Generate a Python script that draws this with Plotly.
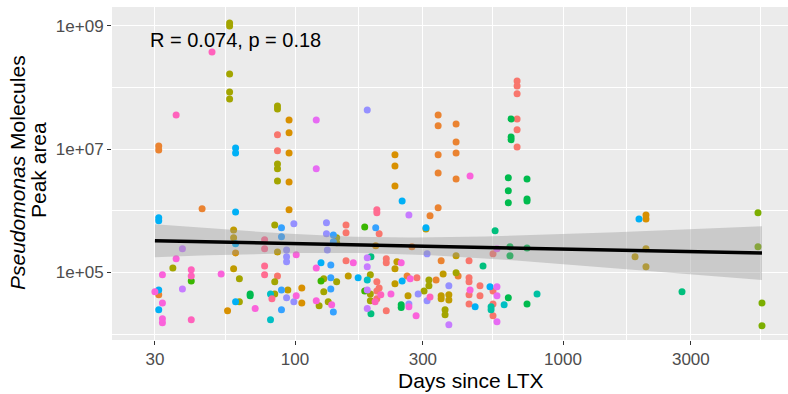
import numpy as np
import plotly.graph_objects as go

# ggplot2 hue palette for 20 patients
palette = ["#F8766D", "#EA8331", "#D89000", "#C09B00", "#A3A500", "#7CAE00",
           "#39B600", "#00BB4E", "#00BF7D", "#00C1A3", "#00BFC4", "#00BAE0",
           "#00B0F6", "#35A2FF", "#9590FF", "#C77CFF", "#E76BF3", "#FA62DB",
           "#FF62BC", "#FF6C91"]

days = [
    # patient 0
    674, 674, 674, 674, 674, 674, 86, 86, 155, 155, 155, 219, 219, 219, 202, 206, 202, 202,
    285, 446, 446, 446, 446, 446, 490, 490, 548, 548, 548, 548, 86, 206,
    # patient 1
    31, 31, 45, 31, 342, 342, 342, 342, 342, 319, 399, 399, 399, 399, 351, 336, 406, 262, 273,
    # patient 2
    95, 95, 95, 95, 95, 236, 236, 236, 56, 106, 106, 200, 2040, 2040, 60,
    # patient 3
    59, 59, 59, 94, 158, 236, 236, 357, 351, 351, 375, 375, 264, 308, 399, 2040, 2040, 1857, 240, 86,
    # patient 4
    57, 57, 57, 57, 57, 86, 86, 86, 86, 86, 84, 35, 62, 62, 84, 84, 143, 143, 128, 128, 143,
    123, 133, 191, 191, 191, 316, 316, 303, 399, 363, 363,
    # patient 5
    5341, 5341, 5527, 5527,
    # patient 6
    41, 125, 182, 182,
    # patient 7
    640, 640, 640, 625, 625, 625, 734, 734, 734, 634, 734, 634, 625, 734, 68, 68, 249, 249,
    # patient 8
    558, 503, 192, 192, 2780,
    # patient 9
    800, 539, 539,
    # patient 10
    81, 81, 603, 186,
    # patient 12
    31, 31, 60, 60, 60, 60, 31, 31, 60, 251, 308, 172, 251, 125, 470, 534, 1921,
    # patient 13
    89, 89, 89, 89, 139, 139, 136, 136, 136, 139, 200,
    # patient 14
    99, 99, 93, 93, 93, 93, 131, 131, 132, 311, 311, 375, 288, 266, 186,
    # patient 15
    38, 38, 186, 186, 186, 186, 266, 375,
    # patient 16
    120, 120, 567, 567, 567, 567,
    # patient 17
    30, 32, 32, 32, 32, 36, 53, 71, 101, 101, 120, 120, 137, 165, 249, 228, 283, 269, 266, 450, 450,
    # patient 18
    49, 36, 41, 41, 41, 199, 209, 319,
    # patient 19
    77, 77, 77, 77, 82, 202, 202,
]

peak_area = [
    # patient 0
    1.28e8, 1.06e8, 7.9e7, 3.1e7, 2.06e7, 1.09e7, 1.71e7, 9.4e6, 5.9e5, 4.4e5, 1.55e5, 1.67e5, 1.44e5, 2.4e4,
    7.1e4, 5.6e4, 5.0e4, 3.75e4, 8.2e4, 1.55e5, 8.2e4, 7.1e4, 4.35e4, 3.1e4, 6.1e4, 4.2e4,
    2.01e5, 5.0e4, 3.1e4, 1.99e4, 8.8e4, 4.24e5,
    # patient 1
    1.13e7, 9.7e6, 1.08e6, 4.35e4, 3.6e7, 2.39e7, 8.1e6, 4.13e6, 1.12e6, 8.3e5, 2.57e7, 1.31e7, 8.7e6, 3.3e6,
    1.55e5, 7.6e4, 8.8e4, 8.8e4, 2.61e5,
    # patient 2
    2.98e7, 1.84e7, 8.7e6, 2.95e6, 1.04e6, 8.1e6, 5.36e6, 2.54e6, 2.4e4, 5.6e4, 3.2e4, 2.71e5, 8.6e5, 7.4e5, 2.08e5,
    # patient 3
    4.9e5, 3.65e5, 1.15e5, 5.2e4, 8.8e4, 1.15e5, 6.6e4, 9.5e4, 4.2e4, 3.75e4, 4.35e4, 3.6e4, 4.2e4, 5.1e5,
    1.87e5, 2.42e5, 1.24e5, 1.8e5, 1.49e5, 2.16e5,
    # patient 4
    1.11e9, 9.96e8, 1.66e8, 8.5e7, 6.5e7, 5.03e7, 4.5e7, 5.78e6, 4.8e6, 3.06e6, 5.9e5, 1.19e5, 7.9e4, 3.35e4,
    7.1e4, 4.5e4, 3.65e5, 3.03e5, 7.9e4, 4.9e4, 7.1e4, 2.9e4, 3.35e4, 9.2e4, 4.5e4, 3.5e4, 7.6e4, 6.1e4,
    5.0e4, 9.9e4, 2.5e4, 2.06e4,
    # patient 5
    9.3e5, 2.61e5, 3.2e4, 1.37e4,
    # patient 6
    7.3e4, 7.3e4, 5.5e5, 5.0e4,
    # patient 7
    3.1e7, 1.58e7, 1.42e7, 3.43e6, 2.11e6, 1.35e6, 3.3e6, 1.56e6, 1.45e6, 2.61e5, 2.51e5, 1.87e5, 3.9e4,
    3.1e4, 4.5e4, 4.2e4, 3.0e4, 2.7e4,
    # patient 8
    4.74e5, 1.28e5, 1.8e5, 2.14e4, 4.9e4,
    # patient 9
    4.5e4, 2.8e4, 2.5e4,
    # patient 10
    4.5e4, 1.71e4, 3.0e4, 7.6e4,
    # patient 12
    7.7e5, 6.9e5, 1.05e7, 8.7e6, 9.6e5, 2.92e5, 5.2e4, 2.5e4, 3.35e4, 1.45e6, 5.3e5, 8.2e4, 7.3e4, 1.44e5,
    2.8e4, 5.9e4, 7.4e5,
    # patient 13
    5.3e5, 3.79e5, 5.2e4, 2.5e4, 4.08e5, 3.15e5, 1.33e5, 8.2e4, 5.4e4, 2.3e4, 5.3e5,
    # patient 14
    6.2e5, 3.35e4, 2.33e5, 1.8e5, 1.49e5, 3.9e4, 6.4e5, 4.24e5, 2.33e5, 2.01e5, 3.5e4, 6.1e4, 4.5e4, 3.1e4, 4.33e7,
    # patient 15
    2.42e5, 5.4e4, 1.73e5, 1.24e5, 5.2e4, 2.6e4, 8.6e5, 1.42e4,
    # patient 16
    2.98e7, 4.8e6, 2.42e5, 5.9e4, 4.2e4, 1.59e4,
    # patient 17
    4.9e4, 9.2e4, 3.2e4, 1.78e4, 1.53e4, 1.67e5, 9.5e4, 2.6e4, 1.94e5, 4.2e4, 1.19e5, 3.5e4, 3.0e4, 1.44e5,
    1.44e5, 4.5e4, 1.99e4, 7.9e4, 2.8e4, 3.69e6, 5.2e4,
    # patient 18
    3.78e8, 3.6e7, 1.11e5, 8.8e4, 1.71e4, 3.35e4, 4.35e4, 4.0e4,
    # patient 19
    3.39e5, 2.42e5, 1.28e5, 9.2e4, 3.75e4, 1.04e6, 9.3e5,
]

patient_sizes = [32, 19, 15, 20, 32, 4, 4, 18, 5, 3, 4, 0, 17, 11, 15, 8, 6, 21, 8, 7]
patient = [p for p, k in enumerate(patient_sizes) for _ in range(k)]

x_ticks = [30, 100, 300, 1000, 3000]
x_tick_labels = ["30", "100", "300", "1000", "3000"]
x_minor = [54.8, 173.2, 547.7, 1732, 5477]
y_ticks = [1e5, 1e7, 1e9]
y_tick_labels = ["1e+05", "1e+07", "1e+09"]
y_minor = [1e4, 1e6, 1e8]
stat_label = "R = 0.074, p = 0.18"

assert len(days) == len(peak_area) == len(patient)

# linear model on log-log scale with 95% confidence band
lx = np.log10(np.array(days, dtype=float))
ly = np.log10(np.array(peak_area, dtype=float))
n = len(lx)
slope, intercept = np.polyfit(lx, ly, 1)
resid = ly - (intercept + slope * lx)
s = np.sqrt(np.sum(resid ** 2) / (n - 2))
xbar = lx.mean()
sxx = np.sum((lx - xbar) ** 2)
xs = np.linspace(lx.min(), lx.max(), 80)
yhat = intercept + slope * xs
se = s * np.sqrt(1.0 / n + (xs - xbar) ** 2 / sxx)
tq = 1.97
upper = yhat + tq * se
lower = yhat - tq * se

FONT = "Liberation Sans, Arial, Helvetica, sans-serif"

fig = go.Figure()
fig.add_trace(go.Scatter(
    x=days, y=peak_area, mode="markers",
    marker=dict(size=7, color=[palette[p] for p in patient], line=dict(width=0)),
    hoverinfo="skip", showlegend=False))
fig.add_trace(go.Scatter(
    x=np.concatenate([10 ** xs, 10 ** xs[::-1]]),
    y=np.concatenate([10 ** upper, 10 ** lower[::-1]]),
    fill="toself", fillcolor="rgba(153,153,153,0.4)", line=dict(width=0),
    mode="lines", hoverinfo="skip", showlegend=False))
fig.add_trace(go.Scatter(
    x=10 ** xs, y=10 ** yhat, mode="lines",
    line=dict(color="black", width=3.5), hoverinfo="skip", showlegend=False))

L, R, T, B = 112, 0, 7, 54
W, H = 788, 394
pw, ph = W - L - R, H - T - B

def px_x(px):
    return (px - L) / pw

def px_y(py):
    return (H - B - py) / ph

fig.update_layout(
    width=W, height=H,
    margin=dict(l=L, r=R, t=T, b=B, autoexpand=False),
    paper_bgcolor="white", plot_bgcolor="#EBEBEB",
    font=dict(family=FONT),
    xaxis=dict(type="log", range=[1.317, 3.8396],
               tickmode="array", tickvals=x_ticks, ticktext=x_tick_labels,
               showgrid=True, gridcolor="white", gridwidth=1.4,
               ticks="outside", ticklen=4, tickwidth=1.1, tickcolor="#333333",
               tickfont=dict(size=17, color="#4D4D4D", family=FONT),
               zeroline=False, showline=False, automargin=False,
               minor=dict(tickmode="array", tickvals=x_minor, showgrid=True,
                          gridcolor="white", gridwidth=0.7, ticks="")),
    yaxis=dict(type="log", range=[3.906, 9.306],
               tickmode="array", tickvals=y_ticks, ticktext=y_tick_labels,
               showgrid=True, gridcolor="white", gridwidth=1.4,
               ticks="outside", ticklen=4, tickwidth=1.1, tickcolor="#333333",
               tickfont=dict(size=17, color="#4D4D4D", family=FONT),
               zeroline=False, showline=False, automargin=False,
               minor=dict(tickmode="array", tickvals=y_minor, showgrid=True,
                          gridcolor="white", gridwidth=0.7, ticks="")),
    annotations=[
        dict(text=stat_label, xref="paper", yref="paper", x=px_x(148), y=px_y(40),
             xanchor="left", yanchor="middle", showarrow=False,
             font=dict(size=20, color="black", family=FONT)),
        dict(text="Days since LTX", xref="paper", yref="paper", x=px_x(471), y=px_y(380),
             xanchor="center", yanchor="middle", showarrow=False,
             font=dict(size=21, color="black", family=FONT)),
        dict(text="<i>Pseudomonas</i> Molecules", xref="paper", yref="paper",
             x=px_x(17), y=px_y(173), xanchor="center", yanchor="middle",
             textangle=-90, showarrow=False,
             font=dict(size=21, color="black", family=FONT)),
        dict(text="Peak area", xref="paper", yref="paper",
             x=px_x(38), y=px_y(170), xanchor="center", yanchor="middle",
             textangle=-90, showarrow=False,
             font=dict(size=21, color="black", family=FONT)),
    ],
)

fig.write_html("out.html", config={"displayModeBar": False},
               post_script="document.body.style.margin='0px';document.body.style.overflow='hidden';")
